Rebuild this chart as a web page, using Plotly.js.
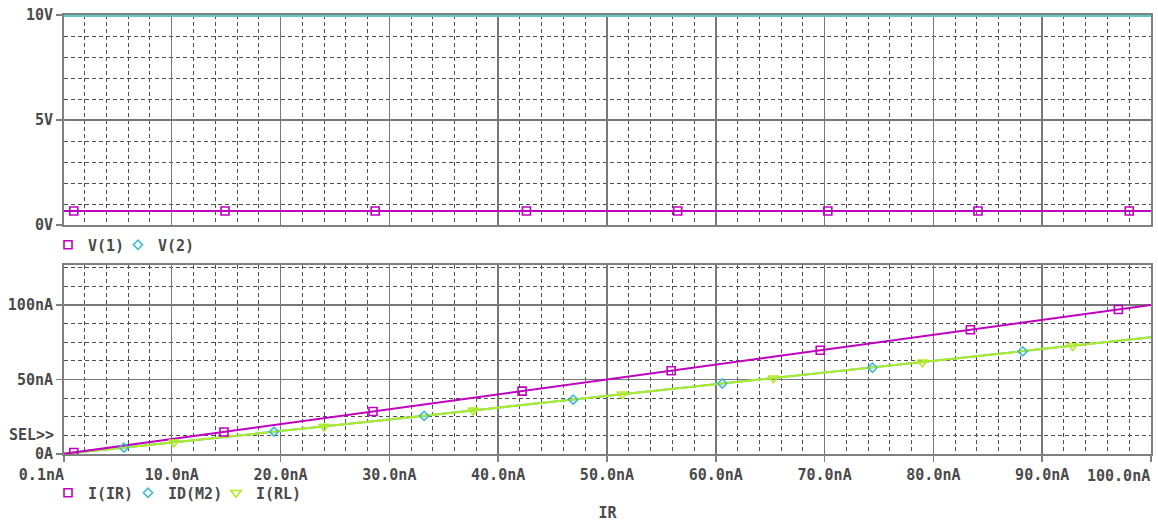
<!DOCTYPE html>
<html>
<head>
<meta charset="utf-8">
<script src="https://cdn.plot.ly/plotly-3.0.1.min.js"></script>
<style>html,body{margin:0;padding:0;background:#fff}#chart{width:1158px;height:522px}</style>
</head>
<body>
<div id="chart"></div>
<script>
// Sweep variable IR (nA)
const sweep = [0.1, 10, 20, 30, 40, 50, 60, 70, 80, 90, 100];
// Upper plot (V)
const v1 = [0.67, 0.67, 0.67, 0.67, 0.67, 0.67, 0.67, 0.67, 0.67, 0.67, 0.67];
const v2 = [10, 10, 10, 10, 10, 10, 10, 10, 10, 10, 10];
// Lower plot (nA)
const iIR = [0.1, 10, 20, 30, 40, 50, 60, 70, 80, 90, 100];
const idM2 = [0.08, 7.6, 15.3, 23.1, 31.1, 39.0, 46.9, 54.6, 62.5, 70.3, 78.3];
const iRL = [0.08, 7.6, 15.3, 23.1, 31.1, 39.0, 46.9, 54.6, 62.5, 70.3, 78.3];
// Marker symbols along the traces
const v1MarkX = [1.0, 14.9, 28.7, 42.6, 56.5, 70.3, 84.1, 98.0];
const v1MarkY = [0.67, 0.67, 0.67, 0.67, 0.67, 0.67, 0.67, 0.67];
// V(2) markers are hidden under the top border in the original (no visible points)
const v2MarkX = [5.6, 19.4, 33.2];
const v2MarkY = [null, null, null];
const irMarkX = [1.0, 14.8, 28.5, 42.2, 55.9, 69.6, 83.4, 97.0];
const irMarkY = [1.0, 14.8, 28.5, 42.2, 55.9, 69.6, 83.4, 97.0];
const m2MarkX = [5.6, 19.4, 33.2, 46.9, 60.6, 74.4, 88.2];
const m2MarkY = [4.3, 15.0, 25.6, 36.5, 47.3, 57.9, 68.9];
const rlMarkX = [10.2, 24.0, 37.7, 51.4, 65.3, 79.0, 92.8];
const rlMarkY = [7.8, 18.4, 29.3, 40.1, 50.8, 61.6, 72.5];
// Tick labels
const xTickVals = [0.1, 10, 20, 30, 40, 50, 60, 70, 80, 90, 100];
const xTickText = ['0.1nA', '10.0nA', '20.0nA', '30.0nA', '40.0nA', '50.0nA', '60.0nA', '70.0nA', '80.0nA', '90.0nA', '100.0nA'];
const vTickVals = [0, 5, 10];
const vTickText = ['0V', '5V', '10V'];
const iTickVals = [0, 50, 100];
const iTickText = ['0A', '50nA', '100nA'];

const NB = '\u00a0';
const LAST = xTickText.length - 1;
// first label is right-aligned on its tick (padding), last one is drawn as an annotation ending at the plot edge
const xText = xTickText.map((t, i) => {
  if (i === 0) return t + NB.repeat(t.length);
  if (i === LAST) return '';
  return t;
});

const MAG = '#c000c0', CYAN = '#5cc8c8', CYM = '#3fbccc', GRN = '#b0ec24';
const TXT = '#4a4a4a';
const FONT = {family: 'DejaVu Sans Mono', size: 15, color: TXT, weight: 700};

const traces = [
  {x: sweep, y: v2, xaxis: 'x', yaxis: 'y', mode: 'lines', line: {color: CYAN, width: 4}, showlegend: false, hoverinfo: 'skip'},
  {x: sweep, y: v1, xaxis: 'x', yaxis: 'y', mode: 'lines', line: {color: MAG, width: 2}, showlegend: false, hoverinfo: 'skip'},
  {x: v1MarkX, y: v1MarkY, xaxis: 'x', yaxis: 'y', mode: 'markers', name: 'V(1)', legend: 'legend',
   marker: {symbol: 'square-open', size: 8, color: MAG, line: {width: 1.6, color: MAG}}},
  {x: v2MarkX, y: v2MarkY, xaxis: 'x', yaxis: 'y', mode: 'markers', name: 'V(2)', legend: 'legend3',
   marker: {symbol: 'diamond-open', size: 7, color: CYM, line: {width: 1.6, color: CYM}}},

  {x: sweep, y: idM2, xaxis: 'x2', yaxis: 'y2', mode: 'lines', line: {color: CYM, width: 2}, showlegend: false, hoverinfo: 'skip'},
  {x: sweep, y: iRL, xaxis: 'x2', yaxis: 'y2', mode: 'lines', line: {color: GRN, width: 2}, showlegend: false, hoverinfo: 'skip'},
  {x: sweep, y: iIR, xaxis: 'x2', yaxis: 'y2', mode: 'lines', line: {color: MAG, width: 2}, showlegend: false, hoverinfo: 'skip'},
  {x: irMarkX, y: irMarkY, xaxis: 'x2', yaxis: 'y2', mode: 'markers', name: 'I(IR)', legend: 'legend2',
   marker: {symbol: 'square-open', size: 8, color: MAG, line: {width: 1.6, color: MAG}}},
  {x: m2MarkX, y: m2MarkY, xaxis: 'x2', yaxis: 'y2', mode: 'markers', name: 'ID(M2)', legend: 'legend4',
   marker: {symbol: 'diamond-open', size: 7, color: CYM, line: {width: 1.6, color: CYM}}},
  {x: rlMarkX, y: rlMarkY, xaxis: 'x2', yaxis: 'y2', mode: 'markers', name: 'I(RL)', legend: 'legend5',
   marker: {symbol: 'triangle-down-open', size: 9, color: GRN, line: {width: 1.6, color: GRN}}}
];

const GRIDMAJ = '#787878', GRIDMIN = '#505050', FRAME = '#808080';
function minor(dtick) {
  return {tickmode: 'linear', tick0: 0, dtick: dtick, showgrid: true, gridcolor: GRIDMIN, gridwidth: 1, griddash: '4px,3px', ticks: ''};
}
const xCommon = {
  range: [0.1, 100], tickmode: 'array', tickvals: xTickVals, ticktext: xText,
  showgrid: true, gridcolor: GRIDMAJ, gridwidth: 1.5, zeroline: false,
  showline: true, mirror: true, linecolor: FRAME, linewidth: 2,
  minor: minor(2), tickfont: FONT, fixedrange: true
};
function leg(x, y) {
  return {orientation: 'h', x: x, xanchor: 'left', y: y, yanchor: 'middle',
    font: FONT, bgcolor: 'rgba(0,0,0,0)', itemwidth: 30};
}
const PW = 1087;
const topLegY = 0.476, botLegY = -0.0888;

const layout = {
  width: 1158, height: 522,
  margin: {l: 64, r: 7, t: 15, b: 68},
  paper_bgcolor: '#ffffff', plot_bgcolor: '#ffffff',
  font: FONT,
  xaxis: Object.assign({}, xCommon, {anchor: 'y', showticklabels: false, ticks: ''}),
  yaxis: {
    domain: [0.5216, 1], range: [0, 10], tickmode: 'array', tickvals: vTickVals, ticktext: vTickText,
    showgrid: true, gridcolor: GRIDMAJ, gridwidth: 1.5, zeroline: false,
    showline: true, mirror: true, linecolor: FRAME, linewidth: 2,
    ticks: 'outside', ticklen: 6, tickwidth: 1.5, tickcolor: FRAME,
    minor: minor(1), tickfont: FONT, fixedrange: true, layer: 'below traces'
  },
  xaxis2: Object.assign({}, xCommon, {anchor: 'y2', ticks: 'outside', ticklen: 6, tickwidth: 1.5, tickcolor: FRAME,
    title: {text: 'IR', font: FONT, standoff: 30}}),
  yaxis2: {
    domain: [0, 0.4305], range: [0, 126.8], tickmode: 'array', tickvals: iTickVals, ticktext: iTickText,
    showgrid: true, gridcolor: GRIDMAJ, gridwidth: 1.5, zeroline: false,
    showline: true, mirror: true, linecolor: FRAME, linewidth: 2,
    ticks: 'outside', ticklen: 6, tickwidth: 1.5, tickcolor: FRAME,
    minor: minor(12.5), tickfont: FONT, fixedrange: true
  },
  // legend entries placed individually (marker centre = legend left + ~20px)
  legend: leg((50 - 2 - 64) / PW, topLegY),
  legend3: leg((120 - 2 - 64) / PW, topLegY),
  legend2: leg((50 - 2 - 64) / PW, botLegY),
  legend4: leg((130 - 2 - 64) / PW, botLegY),
  legend5: leg((218 - 2 - 64) / PW, botLegY),
  annotations: [
    {text: 'SEL>>', xref: 'paper', x: 0, xanchor: 'right', xshift: -8, yref: 'y2', y: 12.5, yanchor: 'middle',
     showarrow: false, font: FONT},
    {text: xTickText[LAST], xref: 'x2', x: xTickVals[LAST], xanchor: 'right', yref: 'paper', y: 0, yanchor: 'top',
     yshift: -12, showarrow: false, font: FONT, borderpad: 0}
  ],
  showlegend: true
};

Plotly.newPlot('chart', traces, layout, {staticPlot: true, displayModeBar: false});
</script>
</body>
</html>
